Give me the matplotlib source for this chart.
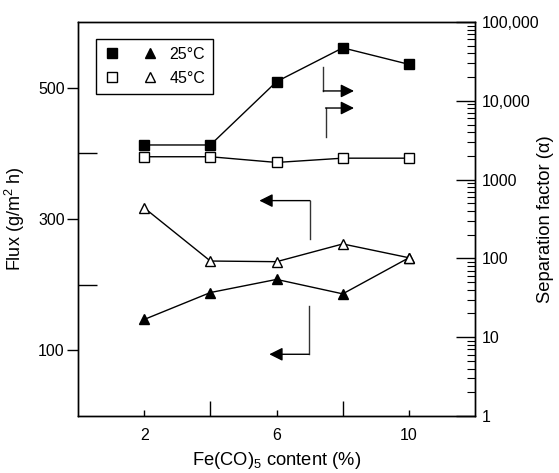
import matplotlib
matplotlib.use('Agg')
import matplotlib.pyplot as plt
from matplotlib.lines import Line2D
from matplotlib.legend_handler import HandlerTuple
from matplotlib.ticker import FixedLocator, FixedFormatter, LogLocator, NullFormatter

plt.rcParams['font.family'] = ['Liberation Sans', 'DejaVu Sans']
plt.rcParams['mathtext.fontset'] = 'custom'
plt.rcParams['mathtext.rm'] = 'Liberation Sans'
plt.rcParams['mathtext.it'] = 'Liberation Sans:italic'

# Данные
content = [2, 4, 6, 8, 10]
sep_25 = [2750, 2750, 17500, 47000, 29000]
sep_45 = [1950, 1950, 1650, 1870, 1870]
flux_25 = [147, 188, 208, 186, 241]
flux_45 = [317, 236, 235, 262, 241]

x_major = [2, 6, 10]
x_minor = [4, 8]
flux_major = [100, 300, 500]
flux_minor = [200, 400]
sep_ticks = [1, 10, 100, 1000, 10000, 100000]
sep_labels = ['1', '10', '100', '1000', '10,000', '100,000']

fig = plt.figure(figsize=(5.59, 4.73), dpi=100)
ax = fig.add_axes([0.1395, 0.1205, 0.7105, 0.833])
ax2 = ax.twinx()

# Поток (левая ось) - треугольники
ax.plot(content, flux_25, color='black', lw=1, marker='^', ms=7.5,
        mfc='black', mec='black', zorder=3)
ax.plot(content, flux_45, color='black', lw=1, marker='^', ms=7.5,
        mfc='white', mec='black', mew=1, zorder=3)

# Фактор разделения (правая ось) - квадраты
ax2.plot(content, sep_45, color='black', lw=1, marker='s', ms=7.5,
         mfc='white', mec='black', mew=1, zorder=3)
ax2.plot(content, sep_25, color='black', lw=1, marker='s', ms=7.5,
         mfc='black', mec='black', zorder=3)

ax.set_xlim(0, 12)
ax.set_ylim(0, 600)
ax2.set_yscale('log')
ax2.set_ylim(1, 100000)

# Оси и деления
ax.xaxis.set_major_locator(FixedLocator(x_major))
ax.xaxis.set_minor_locator(FixedLocator(x_minor))
ax.yaxis.set_major_locator(FixedLocator(flux_major))
ax.yaxis.set_minor_locator(FixedLocator(flux_minor))
ax.tick_params(axis='x', which='major', direction='in', length=4.5, width=1,
               pad=8.5, labelsize=11.5)
ax.tick_params(axis='x', which='minor', direction='in', length=11, width=1)
ax.tick_params(axis='y', which='major', direction='out', length=8, width=1,
               pad=1.5, labelsize=11.5)
ax.tick_params(axis='y', which='minor', direction='in', length=14, width=1)

ax2.yaxis.set_major_locator(FixedLocator(sep_ticks))
ax2.yaxis.set_major_formatter(FixedFormatter(sep_labels))
ax2.yaxis.set_minor_locator(LogLocator(base=10, subs=range(2, 10)))
ax2.yaxis.set_minor_formatter(NullFormatter())
ax2.tick_params(axis='y', which='major', direction='in', length=14, width=1,
                pad=5, labelsize=11.5)
ax2.tick_params(axis='y', which='minor', direction='in', length=6, width=0.8)

for a in (ax, ax2):
    for s in a.spines.values():
        s.set_linewidth(1)

ax.set_xlabel('Fe(CO)$_5$ content (%)', fontsize=13.2)
ax.set_ylabel('Flux (g/m$^2$ h)', fontsize=13)
ax2.set_ylabel('Separation factor (α)', fontsize=13.2)
ax.xaxis.set_label_coords(0.5, -0.087)
ax.yaxis.set_label_coords(-0.128, 0.5)
ax2.yaxis.set_label_coords(1.156, 0.5)

# Стрелки, указывающие на оси
arrow_color = '#333333'
arrows = [
    [(7.41, 531), (7.41, 495), (8.34, 495)],
    [(7.48, 425), (7.48, 469), (8.34, 469)],
    [(7.01, 269), (7.01, 328), (5.48, 328)],
    [(6.98, 167), (6.98, 94), (5.78, 94)],
]
for (p0, p1, p2) in arrows:
    ax.plot([p0[0], p1[0]], [p0[1], p1[1]], color=arrow_color, lw=1)
    ax.annotate('', xy=p2, xytext=p1,
                arrowprops=dict(arrowstyle='-|>,head_length=0.4,head_width=0.2',
                                color=arrow_color, lw=1, shrinkA=0, shrinkB=0,
                                mutation_scale=20, fc='black', ec='black'))

# Легенда
h25 = (Line2D([], [], ls='none', marker='s', ms=7.5, mfc='black', mec='black'),
       Line2D([], [], ls='none', marker='^', ms=7, mfc='black', mec='black'))
h45 = (Line2D([], [], ls='none', marker='s', ms=7.5, mfc='white', mec='black'),
       Line2D([], [], ls='none', marker='^', ms=7, mfc='white', mec='black'))
leg = ax.legend([h25, h45], ['25°C', '45°C'],
                handler_map={tuple: HandlerTuple(ndivide=None, pad=1.4)},
                loc='upper left', bbox_to_anchor=(0.045, 0.957), borderaxespad=0,
                handlelength=3.4, handletextpad=0.7, fontsize=11.5,
                fancybox=False, edgecolor='black', framealpha=1,
                borderpad=0.5, labelspacing=0.55)
leg.get_frame().set_linewidth(1)

plt.savefig('out.png', dpi=100)
